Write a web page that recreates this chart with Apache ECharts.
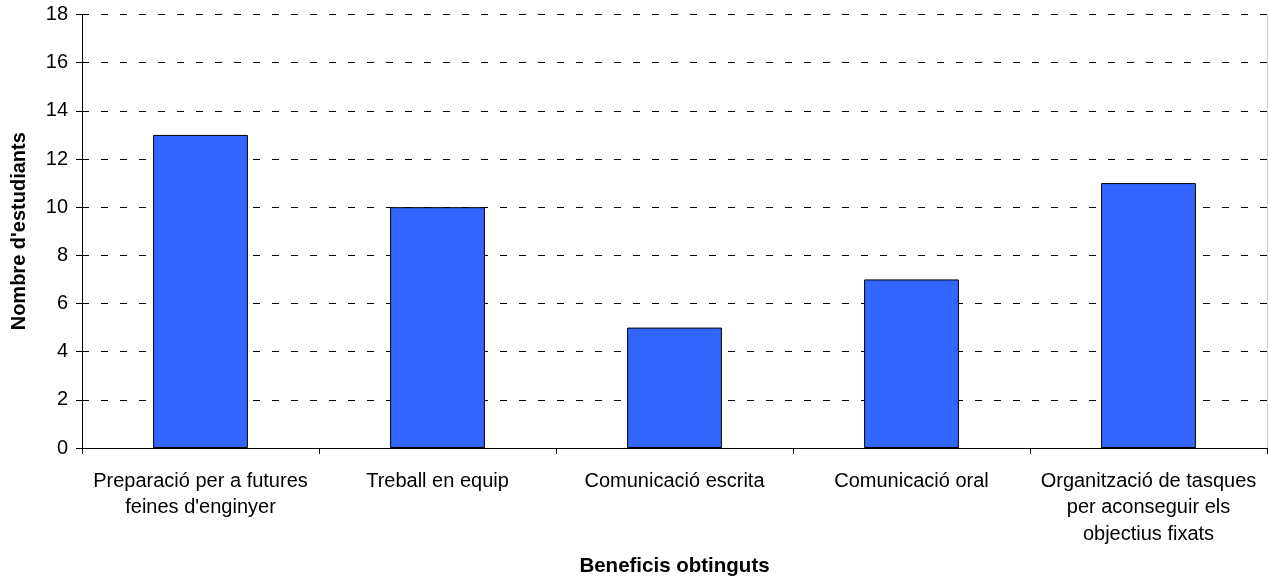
<!DOCTYPE html>
<html>
<head>
<meta charset="utf-8">
<script src="https://cdn.jsdelivr.net/npm/echarts@6/dist/echarts.min.js"></script>
<style>
html,body{margin:0;padding:0;background:#fff;}
#c{width:1268px;height:582px;}
</style>
</head>
<body>
<div id="c"></div>
<script>
const categories = [
  "Preparació per a futures\nfeines d'enginyer",
  "Treball en equip",
  "Comunicació escrita",
  "Comunicació oral",
  "Organització de tasques\nper aconseguir els\nobjectius fixats"
];
const values = [13, 10, 5, 7, 11];
const yTicks = { min: 0, max: 18, interval: 2 };
const xTitle = "Beneficis obtinguts";
const yTitle = "Nombre d'estudiants";

const FONT = "'Liberation Sans', Arial, sans-serif";
const chart = echarts.init(document.getElementById('c'), null, { renderer: 'canvas' });
chart.setOption({
  animation: false,
  backgroundColor: '#fff',
  grid: { left: 82, right: 1, top: 14.5, bottom: 134, containLabel: false },
  xAxis: [{
    type: 'category',
    data: categories,
    boundaryGap: true,
    name: xTitle,
    nameLocation: 'middle',
    nameGap: 108,
    nameTextStyle: { fontFamily: FONT, fontSize: 20.5, fontWeight: 'bold', color: '#000' },
    axisLine: { lineStyle: { color: '#000', width: 1 } },
    axisTick: { show: true, length: 6, lineStyle: { color: '#000' } },
    axisLabel: { fontFamily: FONT, fontSize: 20, color: '#000', margin: 20, lineHeight: 26.5, interval: 0 },
    splitLine: { show: false }
  }, {
    type: 'category',
    position: 'top',
    data: categories,
    axisLine: { lineStyle: { color: '#000', width: 1 } },
    axisTick: { show: false },
    axisLabel: { show: false },
    splitLine: { show: false }
  }],
  yAxis: [{
    type: 'value',
    min: yTicks.min, max: yTicks.max, interval: yTicks.interval,
    name: yTitle,
    nameLocation: 'middle',
    nameGap: 53,
    nameRotate: 90,
    nameTextStyle: { fontFamily: FONT, fontSize: 20, fontWeight: 'bold', color: '#000' },
    axisLine: { show: true, lineStyle: { color: '#000', width: 1 } },
    axisTick: { show: true, length: 6, lineStyle: { color: '#000' } },
    axisLabel: { fontFamily: FONT, fontSize: 20, color: '#000', margin: 14 },
    splitLine: { show: true, lineStyle: { color: '#000', type: [7, 12], width: 1 } }
  }, {
    type: 'value',
    position: 'right',
    min: yTicks.min, max: yTicks.max, interval: yTicks.interval,
    axisLine: { show: true, lineStyle: { color: '#d0d0d0', width: 1 } },
    axisTick: { show: false },
    axisLabel: { show: false },
    splitLine: { show: false }
  }],
  series: [{
    type: 'bar',
    data: values,
    barWidth: '40%',
    itemStyle: { color: '#3366FF', borderColor: '#000', borderWidth: 1 }
  }]
});
</script>
</body>
</html>
